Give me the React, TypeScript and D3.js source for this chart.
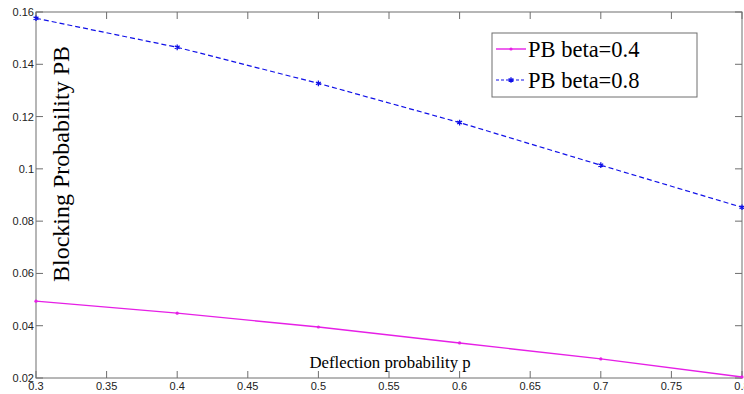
import React from "react";
import * as d3 from "d3";

const width = 744,
  height = 394;
const margin = { top: 12, right: 2, bottom: 16, left: 36 };

// data
const deflection = [0.3, 0.4, 0.5, 0.6, 0.7, 0.8];
const pbBeta04 = [0.0494, 0.0448, 0.0395, 0.0334, 0.0273, 0.0204];
const pbBeta08 = [0.1576, 0.1465, 0.1327, 0.1177, 0.1014, 0.0853];
const xTicks = [0.3, 0.35, 0.4, 0.45, 0.5, 0.55, 0.6, 0.65, 0.7, 0.75, 0.8];
const xTickLabels = ["0.3", "0.35", "0.4", "0.45", "0.5", "0.55", "0.6", "0.65", "0.7", "0.75", "0.8"];
const yTicks = [0.02, 0.04, 0.06, 0.08, 0.1, 0.12, 0.14, 0.16];
const yTickLabels = ["0.02", "0.04", "0.06", "0.08", "0.1", "0.12", "0.14", "0.16"];
const seriesNames = ["PB beta=0.4", "PB beta=0.8"];

const magenta = "#e61fe6";
const blue = "#1010e8";
const axisColor = "#6e6e6e";
const sansFont = "'Liberation Sans', Arial, sans-serif";
const serifFont = "'Liberation Serif', 'Times New Roman', serif";

export default function App() {
  var x = d3
    .scaleLinear()
    .domain([0.3, 0.8])
    .range([margin.left, width - margin.right]);
  var y = d3
    .scaleLinear()
    .domain([0.02, 0.16])
    .range([height - margin.bottom, margin.top]);

  var line = d3
    .line<number>()
    .x((d, i) => x(deflection[i]))
    .y(d => y(d));

  var x0 = x.range()[0],
    x1 = x.range()[1],
    y0 = y.range()[0],
    y1 = y.range()[1];
  var tickLen = 7;

  var star = d3.symbol().type(d3.symbolAsterisk).size(22);

  return (
    <svg
      width={width}
      height={height}
      style={{ position: "absolute", left: 0, top: 0, background: "#fff" }}
    >
      {/* frame */}
      <rect
        x={x0}
        y={y1}
        width={x1 - x0}
        height={y0 - y1}
        fill="none"
        stroke={axisColor}
        strokeWidth={1}
      />
      {/* x ticks, inward on bottom and top */}
      {xTicks.map((t, i) => (
        <g key={"xt" + i}>
          <line x1={x(t)} x2={x(t)} y1={y0} y2={y0 - tickLen} stroke={axisColor} />
          <line x1={x(t)} x2={x(t)} y1={y1} y2={y1 + tickLen} stroke={axisColor} />
          <text
            x={x(t)}
            y={y0 + 12}
            textAnchor="middle"
            fontFamily={sansFont}
            fontSize={11}
            fill="#222"
          >
            {xTickLabels[i]}
          </text>
        </g>
      ))}
      {/* y ticks, inward on left and right */}
      {yTicks.map((t, i) => (
        <g key={"yt" + i}>
          <line x1={x0} x2={x0 + tickLen} y1={y(t)} y2={y(t)} stroke={axisColor} />
          <line x1={x1} x2={x1 - tickLen} y1={y(t)} y2={y(t)} stroke={axisColor} />
          <text
            x={x0 - 2}
            y={y(t) + 4}
            textAnchor="end"
            fontFamily={sansFont}
            fontSize={11}
            fill="#222"
          >
            {yTickLabels[i]}
          </text>
        </g>
      ))}

      {/* series */}
      <path d={line(pbBeta04) || ""} fill="none" stroke={magenta} strokeWidth={1.4} />
      {pbBeta04.map((v, i) => (
        <circle key={"m" + i} cx={x(deflection[i])} cy={y(v)} r={1.6} fill={magenta} />
      ))}
      <path
        d={line(pbBeta08) || ""}
        fill="none"
        stroke={blue}
        strokeWidth={1.2}
        strokeDasharray="5,3"
      />
      {pbBeta08.map((v, i) => (
        <path
          key={"b" + i}
          d={star() || ""}
          transform={`translate(${x(deflection[i])},${y(v)})`}
          fill="none"
          stroke={blue}
          strokeWidth={1.3}
        />
      ))}

      {/* axis titles, placed inside the plot */}
      <text
        transform={`translate(69,${164}) rotate(-90)`}
        textAnchor="middle"
        fontFamily={serifFont}
        fontSize={24}
        fill="#000"
      >
        Blocking Probability PB
      </text>
      <text
        x={390}
        y={368}
        textAnchor="middle"
        fontFamily={serifFont}
        fontSize={16.8}
        fill="#000"
      >
        Deflection probability p
      </text>

      {/* legend */}
      <g>
        <rect x={492} y={33} width={205} height={64} fill="#fff" stroke={axisColor} />
        {seriesNames.map((name, i) => {
          var ly = 49 + i * 31;
          return (
            <g key={"lg" + i}>
              <line
                x1={496}
                x2={526}
                y1={ly}
                y2={ly}
                stroke={i === 0 ? magenta : blue}
                strokeWidth={i === 0 ? 1.4 : 1.2}
                strokeDasharray={i === 0 ? undefined : "3,2"}
              />
              {i === 0 ? (
                <circle cx={511} cy={ly} r={1.6} fill={magenta} />
              ) : (
                <path
                  d={star() || ""}
                  transform={`translate(511,${ly})`}
                  fill="none"
                  stroke={blue}
                  strokeWidth={1.3}
                />
              )}
              <text x={528} y={ly + 8} fontFamily={serifFont} fontSize={22.5} fill="#000">
                {name}
              </text>
            </g>
          );
        })}
      </g>
    </svg>
  );
}
